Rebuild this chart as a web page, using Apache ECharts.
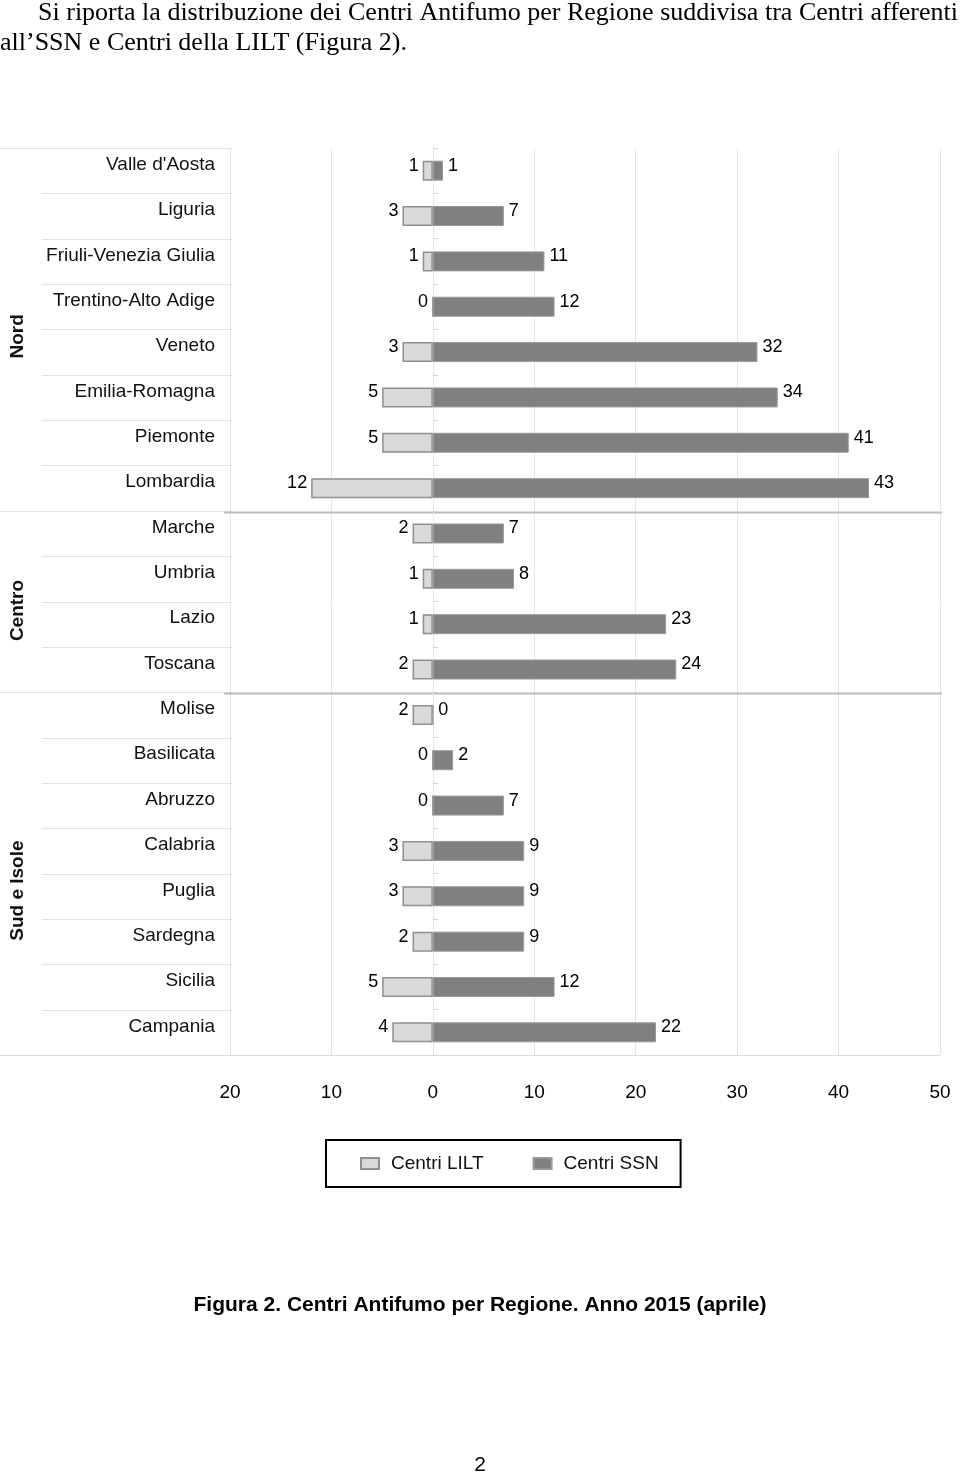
<!DOCTYPE html>
<html><head><meta charset="utf-8">
<script src="https://cdn.jsdelivr.net/npm/echarts@6/dist/echarts.min.js"></script>
<style>html,body{margin:0;padding:0;background:#fff}#c{width:960px;height:1475px}</style>
</head><body><div id="c"></div>
<script>
const regions = ["Valle d'Aosta","Liguria","Friuli-Venezia Giulia","Trentino-Alto Adige","Veneto","Emilia-Romagna","Piemonte","Lombardia",
  "Marche","Umbria","Lazio","Toscana",
  "Molise","Basilicata","Abruzzo","Calabria","Puglia","Sardegna","Sicilia","Campania"];
const groupNames = ["Nord","Centro","Sud e Isole"];
const groupSizes = [8,4,8];
const centriLILT = [1,3,1,0,3,5,5,12, 2,1,1,2, 2,0,0,3,3,2,5,4];
const centriSSN  = [1,7,11,12,32,34,41,43, 7,8,23,24, 0,2,7,9,9,9,12,22];
const xMin = -20, xMax = 50, xStep = 10;

(function(){
const SANS = '"Liberation Sans", Arial, sans-serif';
const SERIF = '"Liberation Serif", "Times New Roman", serif';
const chart = echarts.init(document.getElementById('c'), null, {renderer:'canvas'});

const option = {
  animation:false,
  backgroundColor:'#fff',
  textStyle:{fontFamily:SANS},
  grid:{left:230, right:20, top:148, bottom:420, containLabel:false},
  xAxis:{type:'value', min:xMin, max:xMax, interval:xStep,
    axisLine:{show:false}, axisTick:{show:false},
    axisLabel:{margin:28, fontSize:19, color:'#000', fontFamily:SANS, formatter:v=>String(Math.abs(v))},
    splitLine:{show:true, lineStyle:{color:'#e6e6e6', width:1}}},
  yAxis:[
    {type:'category', data:regions, inverse:true, position:'left',
     axisLine:{show:false, onZero:false}, axisTick:{show:false},
     axisLabel:{margin:15, fontSize:19, color:'#111', fontFamily:SANS, verticalAlign:'bottom', lineHeight:12}},
    {type:'category', data:regions, inverse:true,
     axisLine:{show:true, onZero:true, lineStyle:{color:'#e6e6e6'}},
     axisTick:{show:true, length:5, lineStyle:{color:'#cfcfcf'}},
     axisLabel:{show:false}}
  ],
  legend:{left:326, top:1140, orient:'horizontal', icon:'rect',
    data:['Centri LILT','Centri SSN'],
    itemWidth:18, itemHeight:11, itemGap:49,
    borderColor:'#000', borderWidth:2, padding:[14,22,14,34],
    textStyle:{fontSize:19, color:'#111', fontFamily:SANS, padding:[0,0,0,7]}},
  series:[
    {name:'Centri LILT', type:'bar', barWidth:20, barGap:'-100%',
     data:centriLILT.map(v=>-v),
     itemStyle:{color:'#d9d9d9', borderColor:'#8f8f8f', borderWidth:1.5},
     label:{show:true, position:'left', distance:4, offset:[0,-5], fontSize:18, color:'#000', fontFamily:SANS,
       formatter:p=>String(Math.abs(p.value))}},
    {name:'Centri SSN', type:'bar', barWidth:20, barGap:'-100%',
     data:centriSSN.slice(),
     itemStyle:{color:'#808080', borderColor:'#9a9a9a', borderWidth:1},
     label:{show:true, position:'right', distance:5, offset:[0,-5], fontSize:18, color:'#000', fontFamily:SANS,
       formatter:p=>String(p.value)}}
  ]
};
chart.setOption(option);

const g = [];
const xLeft = chart.convertToPixel({xAxisIndex:0}, xMin);
const xRight = chart.convertToPixel({xAxisIndex:0}, xMax);
const c0 = chart.convertToPixel({yAxisIndex:0}, regions[0]);
const c1 = chart.convertToPixel({yAxisIndex:0}, regions[1]);
const band = c1 - c0;
const topY = c0 - band/2;
let idx = 0;
const groupStarts = [];
groupSizes.forEach((n)=>{groupStarts.push(idx); idx+=n;});
for (let i=0;i<=regions.length;i++){
  const y = Math.round(topY + i*band) + 0.5;
  const isGroup = groupStarts.indexOf(i)>=0 || i===regions.length;
  if (i===regions.length){
    g.push({type:'line', shape:{x1:0,y1:y,x2:xRight,y2:y}, style:{stroke:'#dddddd', lineWidth:1}, silent:true});
  } else {
    g.push({type:'line', shape:{x1:isGroup?0:42,y1:y,x2:xLeft+2,y2:y}, style:{stroke:'#e2e2e2', lineWidth:1}, silent:true});
  }
  if (isGroup && i>0 && i<regions.length){
    g.push({type:'line', shape:{x1:xLeft-6,y1:y+1,x2:xRight+2,y2:y+1}, style:{stroke:'#bdbdbd', lineWidth:2}, silent:true});
  }
}
const groupShift = [7, 9, 17];
groupSizes.forEach((n,gi)=>{
  const s = groupStarts[gi];
  const cy = topY + (s + n/2)*band + groupShift[gi];
  g.push({type:'text', x:18, y:cy, rotation:Math.PI/2,
    style:{text:groupNames[gi], font:'bold 19px '+SANS, fill:'#111', align:'center', verticalAlign:'middle'}, silent:true});
});
const line1 = "Si riporta la distribuzione dei Centri Antifumo per Regione suddivisa tra Centri afferenti";
const line2 = "all\u2019SSN e Centri della LILT (Figura 2).";
const FS = 26;
const cv = document.createElement('canvas').getContext('2d');
cv.font = FS + 'px ' + SERIF;
const words = line1.split(' ');
const wsum = words.reduce((a,w)=>a+cv.measureText(w).width,0);
const x0 = 38, x1 = 958;
const gap = Math.max(3, (x1-x0-wsum)/(words.length-1));
let cx = x0;
words.forEach(w=>{
  g.push({type:'text', x:cx, y:13, style:{text:w, font:FS+'px '+SERIF, fill:'#000', align:'left', verticalAlign:'middle'}, silent:true});
  cx += cv.measureText(w).width + gap;
});
g.push({type:'text', x:0, y:43, style:{text:line2, font:FS+'px '+SERIF, fill:'#000', align:'left', verticalAlign:'middle'}, silent:true});
g.push({type:'text', x:480, y:1305, style:{text:'Figura 2. Centri Antifumo per Regione. Anno 2015 (aprile)', font:'bold 21px '+SANS, fill:'#000', align:'center', verticalAlign:'middle'}, silent:true});
g.push({type:'text', x:480, y:1465, style:{text:'2', font:'21px '+SANS, fill:'#000', align:'center', verticalAlign:'middle'}, silent:true});

chart.setOption({graphic:g});
})();
</script></body></html>
